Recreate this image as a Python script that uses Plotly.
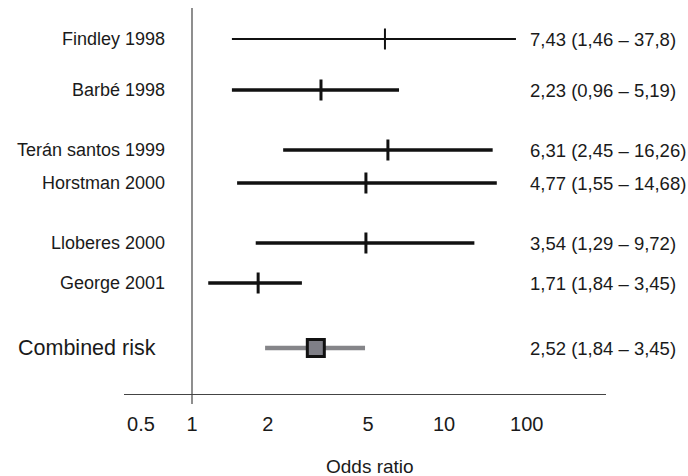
import plotly.graph_objects as go

# ---- data (values as drawn on the chart's log axis) ----
studies = ["Findley 1998", "Barbé 1998", "Terán santos 1999", "Horstman 2000",
           "Lloberes 2000", "George 2001", "Combined risk"]
or_est = [5.83, 3.25, 5.99, 4.90, 4.90, 1.83, 3.10]
ci_low = [1.44, 1.44, 2.30, 1.51, 1.79, 1.16, 1.95]
ci_high = [19.3, 6.63, 15.6, 16.2, 13.2, 2.73, 4.86]
ci_text = ["7,43 (1,46 – 37,8)", "2,23 (0,96 – 5,19)", "6,31 (2,45 – 16,26)",
           "4,77 (1,55 – 14,68)", "3,54 (1,29 – 9,72)", "1,71 (1,84 – 3,45)",
           "2,52 (1,84 – 3,45)"]
tick_vals = [0.627, 1, 2, 5, 10, 21.3]
tick_text = ["0.5", "1", "2", "5", "10", "100"]

# ---- layout settings ----
row_y = [31, 82, 142, 175, 235, 275, 340]   # vertical slot of each row
FONT = "Liberation Sans, Arial, Helvetica, sans-serif"
W, H = 688, 476
ML, MR, MT, MB = 124, 82, 8, 82
PW, PH = W - ML - MR, H - MT - MB

def px_to_paper_x(px):
    return (px - ML) / PW

fig = go.Figure()

for i, name in enumerate(studies):
    combined = (i == len(studies) - 1)
    if combined:
        lc, lw = "#858589", 4.5
    elif i == 0:
        lc, lw = "#111111", 2
    else:
        lc, lw = "#111111", 3.6
    fig.add_trace(go.Scatter(
        x=[ci_low[i], ci_high[i]], y=[row_y[i], row_y[i]],
        mode="lines", line=dict(color=lc, width=lw),
        showlegend=False, hoverinfo="skip"))
    if combined:
        fig.add_trace(go.Scatter(
            x=[or_est[i]], y=[row_y[i]], mode="markers",
            marker=dict(symbol="square", size=17, color="#7f7f87",
                        line=dict(color="#111111", width=3)),
            showlegend=False))
    else:
        fig.add_trace(go.Scatter(
            x=[or_est[i]], y=[row_y[i]], mode="markers",
            marker=dict(symbol="line-ns", size=15,
                        line=dict(color="#111111", width=2 if i == 0 else 3)),
            showlegend=False))

    # study label (left)
    fig.add_annotation(
        x=px_to_paper_x(158 if combined else 167), xref="paper",
        y=row_y[i], yref="y", text=name, showarrow=False,
        xanchor="right", yanchor="middle",
        font=dict(family=FONT, size=21.5 if combined else 18, color="#1a1a1a"))
    # CI label (right)
    fig.add_annotation(
        x=px_to_paper_x(528), xref="paper",
        y=row_y[i], yref="y", text=ci_text[i], showarrow=False,
        xanchor="left", yanchor="middle",
        font=dict(family=FONT, size=18.5, color="#1a1a1a"))

# vertical reference line at OR = 1
fig.add_shape(type="line", xref="x", x0=1, x1=1, yref="paper",
              y0=-10 / PH, y1=1, line=dict(color="#444444", width=1.2))

# axis title
fig.add_annotation(x=px_to_paper_x(370), xref="paper", y=-72 / PH,
                   yref="paper", text="Odds ratio", showarrow=False,
                   xanchor="center", yanchor="middle",
                   font=dict(family=FONT, size=19, color="#1a1a1a"))

fig.update_layout(
    width=W, height=H,
    margin=dict(l=ML, r=MR, t=MT, b=MB),
    paper_bgcolor="white", plot_bgcolor="white",
    xaxis=dict(type="log", range=[-68 / 252, 414 / 252],
               tickvals=tick_vals, ticktext=tick_text, ticks="",
               showgrid=False, zeroline=False, showline=True,
               linecolor="#444444", linewidth=1.2,
               tickfont=dict(family=FONT, size=20, color="#1a1a1a"),
               ticklabelstandoff=12),
    yaxis=dict(range=[PH, 0], showgrid=False, zeroline=False,
               showticklabels=False, showline=False, ticks=""),
)

fig.write_html("out.html",
               config={"displayModeBar": False},
               post_script="document.body.style.margin='0';"
                           "document.body.style.overflow='hidden';")
